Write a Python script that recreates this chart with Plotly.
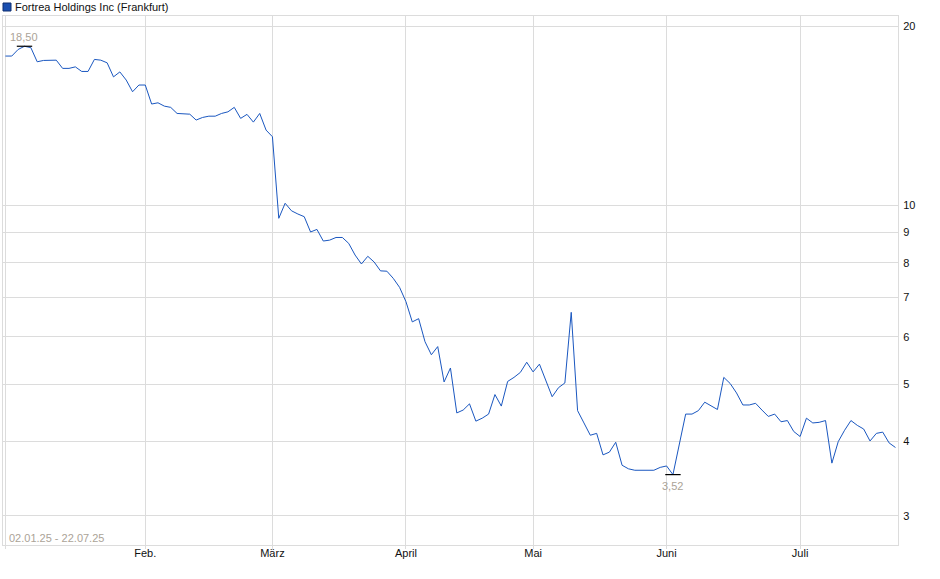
import numpy as np
import pandas as pd
import plotly.graph_objects as go

# Handelstage Frankfurt 02.01.25 - 22.07.25 (ohne Feiertage)
feiertage = ["2025-04-18", "2025-04-21", "2025-05-01"]
tage = [d.strftime("%Y-%m-%d") for d in pd.bdate_range("2025-01-02", "2025-07-22")
        if d.strftime("%Y-%m-%d") not in feiertage]

# Schlusskurse (EUR)
kurse = [
    17.81, 17.81, 18.27, 18.50, 18.40, 17.42, 17.51, 17.51, 17.53, 16.98,
    16.98, 17.08, 16.78, 16.78, 17.58, 17.53, 17.35, 16.43, 16.75, 16.23,
    15.51, 15.92, 15.92, 14.79, 14.86, 14.67, 14.60, 14.26, 14.26, 14.22,
    13.90, 14.04, 14.11, 14.11, 14.26, 14.35, 14.60, 13.99, 14.21, 13.79,
    14.26, 13.37, 13.03, 9.50, 10.07, 9.78, 9.66, 9.56, 9.01, 9.10,
    8.70, 8.73, 8.82, 8.82, 8.62, 8.24, 7.96, 8.20, 8.02, 7.75,
    7.74, 7.53, 7.27, 6.88, 6.36, 6.44, 5.89, 5.60, 5.78, 5.04,
    5.32, 4.47, 4.52, 4.63, 4.33, 4.38, 4.45, 4.80, 4.59, 5.05,
    5.13, 5.23, 5.44, 5.24, 5.40, 5.08, 4.76, 4.93, 5.02, 6.60,
    4.51, 4.30, 4.10, 4.13, 3.80, 3.84, 3.99, 3.65, 3.60, 3.58,
    3.58, 3.58, 3.58, 3.62, 3.64, 3.52, 3.95, 4.45, 4.45, 4.51,
    4.66, 4.60, 4.53, 5.13, 5.01, 4.83, 4.61, 4.61, 4.64, 4.52,
    4.41, 4.45, 4.32, 4.34, 4.16, 4.08, 4.38, 4.30, 4.31, 4.34,
    3.68, 4.00, 4.18, 4.34, 4.26, 4.20, 4.01, 4.13, 4.15, 3.98,
    3.91,
]

monats_start = ["2025-01-02", "2025-02-03", "2025-03-03", "2025-04-01",
                "2025-05-02", "2025-06-02", "2025-07-01"]
monats_text = ["", "Feb.", "März", "April", "Mai", "Juni", "Juli"]

y_ticks = [3, 4, 5, 6, 7, 8, 9, 10, 20]

i_max = int(np.argmax(kurse))
i_min = int(np.argmin(kurse))

schrift = "Liberation Sans, Arial, sans-serif"
grau = "#dcdcdc"

fig = go.Figure()
fig.add_trace(go.Scatter(x=tage, y=kurse, mode="lines",
                         line=dict(color="#1a57c0", width=1),
                         showlegend=False))
fig.add_trace(go.Scatter(x=[tage[i_max], tage[i_min]], y=[kurse[i_max], kurse[i_min]],
                         mode="markers",
                         marker=dict(symbol="line-ew", size=11,
                                     line=dict(color="black", width=1.2)),
                         showlegend=False, hoverinfo="skip"))

def fmt(v):
    return f"{v:.2f}".replace(".", ",")

fig.add_annotation(x=tage[i_max], y=np.log10(kurse[i_max]), text=fmt(kurse[i_max]),
                   showarrow=False, yshift=9, font=dict(size=11, color="#aba397"))
fig.add_annotation(x=tage[i_min], y=np.log10(kurse[i_min]), text=fmt(kurse[i_min]),
                   showarrow=False, yshift=-11, font=dict(size=11, color="#aba397"))

# Legende
fig.add_shape(type="rect", xref="paper", yref="paper", xsizemode="pixel", ysizemode="pixel",
              xanchor=0, yanchor=1, x0=0, x1=8, y0=5, y1=13,
              fillcolor="#1a4fb0", line=dict(color="#0e2f70", width=1))
fig.add_annotation(xref="paper", yref="paper", x=0, y=1, xanchor="left", yanchor="middle",
                   xshift=10, yshift=9, showarrow=False,
                   text="Fortrea Holdings Inc (Frankfurt)",
                   font=dict(size=11, color="#111111"))
fig.add_annotation(xref="paper", yref="paper", x=0, y=0, xanchor="left", yanchor="bottom",
                   xshift=4, yshift=-1, showarrow=False, text="02.01.25 - 22.07.25",
                   font=dict(size=11, color="#aba397"))

fig.update_layout(
    width=940, height=579,
    margin=dict(l=3, r=42, t=16, b=34),
    paper_bgcolor="white", plot_bgcolor="white",
    font=dict(family=schrift, size=11, color="#111111"),
    xaxis=dict(type="category", range=[-0.38, 140.4],
               tickvals=monats_start, ticktext=monats_text,
               showgrid=True, gridcolor=grau, gridwidth=1,
               showline=True, linecolor=grau, mirror=True,
               ticks="outside", ticklen=3, tickcolor=grau,
               ticklabelstandoff=-5, zeroline=False),
    yaxis=dict(type="log", side="right",
               range=[np.log10(2.68), np.log10(20.8)],
               tickvals=y_ticks, ticktext=[str(t) for t in y_ticks],
               showgrid=True, gridcolor=grau, gridwidth=1,
               showline=True, linecolor=grau, mirror=True,
               ticks="", ticklabelstandoff=2, zeroline=False),
)

# Seitenrand des Browsers entfernen, keine Werkzeugleiste
fig.write_html("out.html", config={"displayModeBar": False},
               post_script="document.body.style.margin='0';")
